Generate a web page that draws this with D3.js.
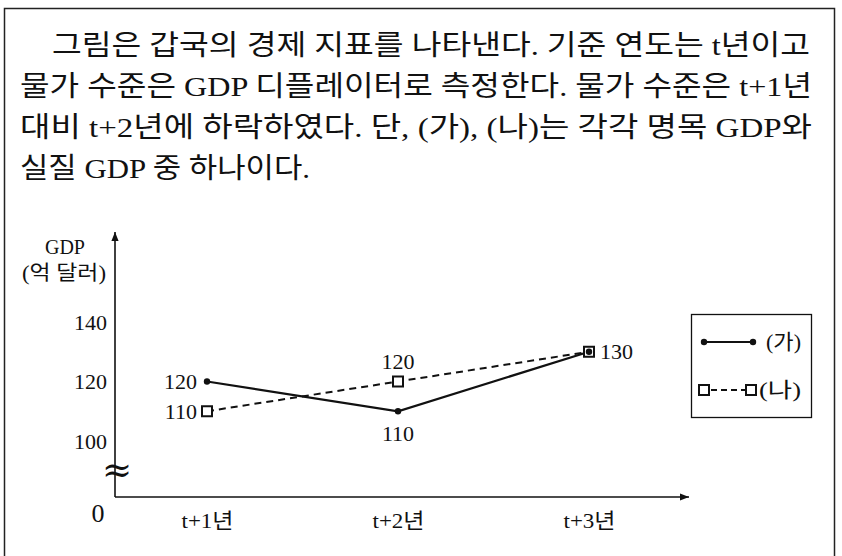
<!DOCTYPE html>
<html>
<head>
<meta charset="utf-8">
<script src="https://cdn.jsdelivr.net/npm/d3@7"></script>
<style>
  html, body { margin: 0; padding: 0; background: #fff; }
  svg { display: block; }
  text { font-family: 'Liberation Serif', 'Noto Sans CJK KR', serif; fill: #111; }
</style>
</head>
<body>
<svg width="842" height="556"></svg>
<script>
// question text, one entry per line
var paragraph = [
    '그림은 갑국의 경제 지표를 나타낸다. 기준 연도는 t년이고',
    '물가 수준은 GDP 디플레이터로 측정한다. 물가 수준은 t+1년',
    '대비 t+2년에 하락하였다. 단, (가), (나)는 각각 명목 GDP와',
    '실질 GDP 중 하나이다.'
];

var years = ['t+1년', 't+2년', 't+3년'];
var gaValues = [120, 110, 130];   // (가)
var naValues = [110, 120, 130];   // (나)
var yTicks = [100, 120, 140];
var seriesNames = ['(가)', '(나)'];

var svg = d3.select('svg');

// outer frame (bottom edge runs off the picture)
svg.append('rect')
    .attr('x', 4.5).attr('y', 8.5)
    .attr('width', 830).attr('height', 560)
    .attr('fill', 'none')
    .attr('stroke', '#222')
    .attr('stroke-width', 1.5);

// paragraph
var lineX = [52, 20, 20, 20];
var lineW = [758, 792, 792, 290];
svg.append('g').attr('class', 'paragraph')
    .selectAll('text')
    .data(paragraph)
    .enter().append('text')
    .attr('x', function (d, i) { return lineX[i]; })
    .attr('y', function (d, i) { return 45 + i * 41; })
    .attr('dy', '0.35em')
    .attr('textLength', function (d, i) { return lineW[i]; })
    .attr('lengthAdjust', 'spacingAndGlyphs')
    .style('font-size', '28px')
    .text(function (d) { return d; });

// scales
var x = d3.scalePoint().domain(years).range([207, 589]);
var y = d3.scaleLinear().domain([100, 140]).range([441, 322]);

var originX = 115, originY = 497;

svg.append('defs').append('marker')
    .attr('id', 'arrow')
    .attr('viewBox', '0 0 10 10')
    .attr('refX', 10).attr('refY', 5)
    .attr('markerWidth', 9).attr('markerHeight', 9)
    .attr('markerUnits', 'userSpaceOnUse')
    .attr('orient', 'auto')
    .append('path')
    .attr('d', 'M0,1 L10,5 L0,9 Z')
    .attr('fill', '#111');

// axis lines
svg.append('line')
    .attr('x1', originX).attr('y1', originY)
    .attr('x2', originX).attr('y2', 232)
    .attr('stroke', '#111').attr('stroke-width', 1.6)
    .attr('marker-end', 'url(#arrow)');
svg.append('line')
    .attr('x1', originX).attr('y1', originY)
    .attr('x2', 689).attr('y2', originY)
    .attr('stroke', '#111').attr('stroke-width', 1.6)
    .attr('marker-end', 'url(#arrow)');

// y ticks
var yAxis = d3.axisLeft(y).tickValues(yTicks).tickSize(0).tickPadding(8);
var gy = svg.append('g')
    .attr('class', 'axis axis--y')
    .attr('transform', 'translate(' + originX + ',0)')
    .call(yAxis);
gy.select('.domain').remove();
gy.selectAll('text')
    .style('font-size', '22px')
    .style('font-family', "'Liberation Serif', serif")
    .attr('fill', '#111');

// x ticks
var xAxis = d3.axisBottom(x).tickSize(0);
var gx = svg.append('g')
    .attr('class', 'axis axis--x')
    .attr('transform', 'translate(0,' + originY + ')')
    .call(xAxis);
gx.select('.domain').remove();
gx.selectAll('text')
    .attr('y', 24)
    .attr('dy', '0.35em')
    .attr('textLength', 52)
    .attr('lengthAdjust', 'spacingAndGlyphs')
    .style('font-size', '21px')
    .attr('fill', '#111');

// axis titles, origin and break mark
svg.append('text')
    .attr('x', 65).attr('y', 247).attr('dy', '0.35em')
    .attr('text-anchor', 'middle')
    .style('font-size', '20px')
    .text('GDP');
svg.append('text')
    .attr('x', 64).attr('y', 273).attr('dy', '0.35em')
    .attr('text-anchor', 'middle')
    .attr('textLength', 84).attr('lengthAdjust', 'spacingAndGlyphs')
    .style('font-size', '20px')
    .text('(억 달러)');
svg.append('text')
    .attr('x', 98).attr('y', 513).attr('dy', '0.35em')
    .attr('text-anchor', 'middle')
    .style('font-size', '26px')
    .text('0');
svg.append('text')
    .attr('x', 117).attr('y', 469).attr('dy', '0.35em')
    .attr('text-anchor', 'middle')
    .style('font-size', '36px')
    .style('font-family', "'DejaVu Serif', serif")
    .text('≈');

// series
var gaData = years.map(function (yr, i) { return { year: yr, value: gaValues[i] }; });
var naData = years.map(function (yr, i) { return { year: yr, value: naValues[i] }; });

var line = d3.line()
    .x(function (d) { return x(d.year); })
    .y(function (d) { return y(d.value); });

svg.append('path')
    .datum(naData)
    .attr('d', line)
    .attr('fill', 'none')
    .attr('stroke', '#111')
    .attr('stroke-width', 2)
    .attr('stroke-dasharray', '7,5');

svg.append('path')
    .datum(gaData)
    .attr('d', line)
    .attr('fill', 'none')
    .attr('stroke', '#111')
    .attr('stroke-width', 2.2);

svg.append('g').selectAll('rect')
    .data(naData)
    .enter().append('rect')
    .attr('x', function (d) { return x(d.year) - 5; })
    .attr('y', function (d) { return y(d.value) - 5; })
    .attr('width', 10).attr('height', 10)
    .attr('fill', '#fff')
    .attr('stroke', '#111')
    .attr('stroke-width', 2);

svg.append('g').selectAll('circle')
    .data(gaData)
    .enter().append('circle')
    .attr('cx', function (d) { return x(d.year); })
    .attr('cy', function (d) { return y(d.value); })
    .attr('r', 3.2)
    .attr('fill', '#111');

// value labels
var labelStyle = function (sel) {
    sel.style('font-size', '22px').attr('dy', '0.35em');
};
// (가) labels: left, below, right
var gaPos = [
    { dx: -10, dy: 0, anchor: 'end' },
    { dx: 0, dy: 22, anchor: 'middle' },
    { dx: 11, dy: 0, anchor: 'start' }
];
var naPos = [
    { dx: -10, dy: 0, anchor: 'end' },
    { dx: 0, dy: -20, anchor: 'middle' },
    null
];
svg.append('g').selectAll('text')
    .data(gaData)
    .enter().append('text')
    .attr('x', function (d, i) { return x(d.year) + gaPos[i].dx; })
    .attr('y', function (d, i) { return y(d.value) + gaPos[i].dy; })
    .attr('text-anchor', function (d, i) { return gaPos[i].anchor; })
    .call(labelStyle)
    .text(function (d) { return d.value; });
svg.append('g').selectAll('text')
    .data(naData.filter(function (d, i) { return naPos[i]; }))
    .enter().append('text')
    .attr('x', function (d, i) { return x(d.year) + naPos[i].dx; })
    .attr('y', function (d, i) { return y(d.value) + naPos[i].dy; })
    .attr('text-anchor', function (d, i) { return naPos[i].anchor; })
    .call(labelStyle)
    .text(function (d) { return d.value; });

// legend
var legend = svg.append('g').attr('class', 'legend');
legend.append('rect')
    .attr('x', 691.5).attr('y', 314.5)
    .attr('width', 120).attr('height', 103)
    .attr('fill', '#fff')
    .attr('stroke', '#111').attr('stroke-width', 1.3);

legend.append('line')
    .attr('x1', 704).attr('x2', 753).attr('y1', 342).attr('y2', 342)
    .attr('stroke', '#111').attr('stroke-width', 2);
legend.selectAll('circle.lg')
    .data([704, 753])
    .enter().append('circle')
    .attr('class', 'lg')
    .attr('cx', function (d) { return d; }).attr('cy', 342).attr('r', 3.2)
    .attr('fill', '#111');

legend.append('line')
    .attr('x1', 711).attr('x2', 745).attr('y1', 390).attr('y2', 390)
    .attr('stroke', '#111').attr('stroke-width', 2)
    .attr('stroke-dasharray', '6,4');
legend.selectAll('rect.lg')
    .data([704, 751])
    .enter().append('rect')
    .attr('class', 'lg')
    .attr('x', function (d) { return d - 5; }).attr('y', 385)
    .attr('width', 10).attr('height', 10)
    .attr('fill', '#fff')
    .attr('stroke', '#111').attr('stroke-width', 2);

legend.selectAll('text')
    .data(seriesNames)
    .enter().append('text')
    .attr('x', function (d, i) { return i === 0 ? 766 : 759; })
    .attr('y', function (d, i) { return i === 0 ? 342 : 390; })
    .attr('dy', '0.35em')
    .attr('textLength', function (d, i) { return i === 0 ? 35 : 42; })
    .attr('lengthAdjust', 'spacingAndGlyphs')
    .style('font-size', '21px')
    .text(function (d) { return d; });
</script>
</body>
</html>
